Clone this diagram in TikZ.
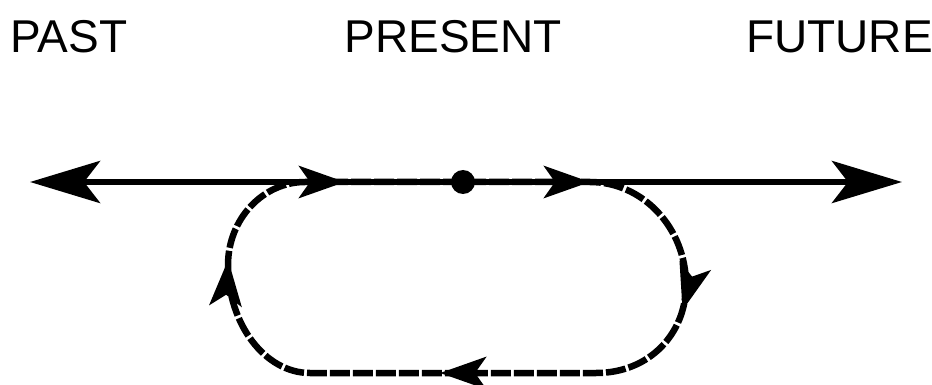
\documentclass[tikz,border=0pt]{standalone}
\usepackage{fontspec}
\setmainfont{Liberation Sans}
\usetikzlibrary{arrows.meta,decorations.markings}
\tikzset{
  lbl/.style={anchor=base west,inner sep=0pt,font=\fontsize{46}{50}\selectfont},
  mainline/.style={line width=6.5pt},
  loopline/.style={line width=6.5pt,dash pattern=on 20pt off 3pt},
  bigtip/.tip={Stealth[length=70pt,width=42pt,inset=16pt]},
  midtip/.tip={Stealth[length=46pt,width=32pt,inset=11pt]},
}
\begin{document}
\begin{tikzpicture}[x=1pt,y=-1pt]
\useasboundingbox (0,0) rectangle (932,385);
\node[lbl] (past) at (10.5,53) {PAST};
\node[lbl] (present) at (344.5,53) {PRESENT};
\node[lbl] (future) at (746,53) {FUTURE};
\coordinate (L) at (30,182);
\coordinate (R) at (902,182);
\draw[mainline,{bigtip}-{bigtip}] (L) -- (R);
\node[circle,fill=black,inner sep=0pt,minimum size=24pt] (dot) at (463,182) {};
\coordinate (J1) at (305,182);
\coordinate (J2) at (590,182);
\coordinate (E) at (686,285);
\coordinate (B1) at (596,373);
\coordinate (B2) at (310,373);
\coordinate (W) at (228,265);
\draw[loopline,postaction={decorate},decoration={markings,
   mark=at position 40pt with {\arrow{midtip}},
   mark=at position 285pt with {\arrow{midtip}},
   mark=at position 467pt with {\arrow{midtip}},
   mark=at position 738pt with {\arrow{midtip}},
   mark=at position 1023pt with {\arrow{midtip}}}]
  (J1) -- (J2)
  .. controls (643,182) and (686,228) .. (E)
  .. controls (686,333) and (650,373) .. (B1)
  -- (B2)
  .. controls (265,373) and (228,324) .. (W)
  .. controls (228,219) and (263,182) .. (J1);
\end{tikzpicture}
\end{document}
